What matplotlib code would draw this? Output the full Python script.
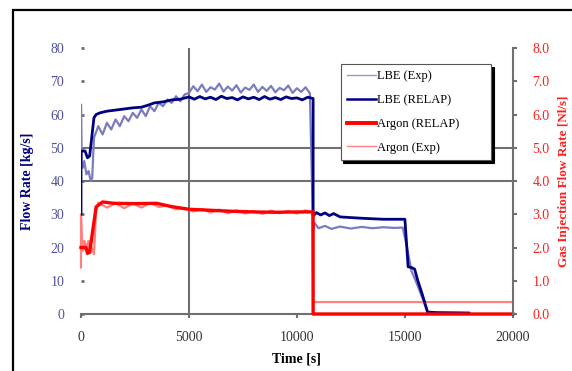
import matplotlib
matplotlib.use("Agg")
import matplotlib.pyplot as plt
from matplotlib.patches import Rectangle

plt.rcParams['font.family'] = ['Liberation Serif', 'DejaVu Serif']

# LBE flow rate, experiment (kg/s)
lbe_exp_t = [0, 0, 30, 80, 150, 250, 350, 450, 520,
             600, 800, 1000, 1200, 1400, 1600, 1800, 2000, 2200, 2400, 2600, 2800,
             3000, 3200, 3400, 3600, 3800, 4000, 4200, 4400, 4600, 4800,
             5000, 5200, 5400, 5600, 5800, 6000, 6200, 6400, 6600, 6800, 7000, 7200,
             7400, 7600, 7800, 8000, 8200, 8400, 8600, 8800, 9000, 9200, 9400, 9600,
             9800, 10000, 10200, 10400, 10600, 10750,
             10800, 11000, 11300, 11600, 12000, 12500, 13000, 13500, 14000, 14500,
             14900, 15100, 15300, 15500, 15800, 16050, 18000]
lbe_exp_v = [30, 63, 45, 44, 46, 42, 43, 40, 41,
             53, 56.5, 54, 57.5, 55.5, 58.5, 56.5, 59.5, 58, 60.5, 59, 61.5,
             59.5, 62.5, 61, 63.5, 62.5, 64.5, 63.5, 65.5, 64, 66,
             66.5, 68.5, 67, 69, 66.8, 68.2, 67.5, 69.3, 66.9, 68.4, 67.2, 68.8,
             66.6, 68.1, 67.4, 69, 66.8, 68.3, 67.1, 68.6, 66.7, 68, 67.3, 68.7,
             66.5, 67.9, 66.8, 68.2, 66.4, 25,
             27.5, 25.8, 26.5, 25.6, 26.3, 25.7, 26.2, 25.8, 26.1, 25.9,
             26, 20, 13, 10, 5, 0.5, 0.3]

# LBE flow rate, RELAP (kg/s)
lbe_relap_t = [0, 0, 190, 300, 400, 600, 700, 880, 1200, 1800, 2400, 2800, 3100,
               3400, 3800, 4200, 4600,
               5000, 5250, 5500, 5750, 6000, 6250, 6500, 6750, 7000, 7250, 7500,
               7750, 8000, 8250, 8500, 8750, 9000, 9250, 9500, 9750, 10000, 10250,
               10500, 10750, 10750,
               10900, 11100, 11300, 11500, 11700, 12000, 13000, 14000, 15000,
               15150, 15300, 15450, 15600, 15800, 16050, 16500, 17950]
lbe_relap_v = [30, 49, 49, 47, 47.5, 59, 60, 60.5, 61, 61.5, 62, 62.2, 62.8,
               63.5, 63.8, 64.4, 64.6,
               65.3, 64.6, 65.4, 64.7, 65.2, 64.5, 65.5, 64.8, 65.1, 64.4, 65.3,
               64.7, 65.2, 64.5, 65.4, 64.6, 65.1, 64.5, 65.3, 64.8, 65.0, 64.4,
               65.2, 64.8, 29.5,
               30.5, 29.8, 30.4, 29.6, 30.2, 29.2, 28.8, 28.5, 28.5,
               14.2, 14, 13.5, 10, 6, 0.6, 0.4, 0.3]

# Argon flow rate, RELAP
ar_relap_t = [0, 230, 300, 400, 700, 1000, 1500, 2500, 3500, 4200, 5000, 6000,
              7000, 8000, 9000, 10000, 10750, 10750, 20000]
ar_relap_v = [20, 20, 18.3, 18.5, 32.2, 33.7, 33.3, 33.2, 33.3, 32.3, 31.5, 31.2,
              30.9, 30.7, 30.6, 30.7, 30.7, 0, 0]

# Argon flow rate, experiment
ar_exp_t = [0, 0, 50, 100, 150, 200, 250, 300, 350, 400, 500, 600, 700,
            800, 1200, 1600, 2000, 2400, 2800, 3200, 3600, 4000, 4400, 4800, 5200,
            5600, 6000, 6400, 6800, 7200, 7600, 8000, 8400, 8800, 9200, 9600,
            10000, 10400, 10700, 10750, 20000]
ar_exp_v = [14, 30, 21, 19, 22, 20, 21, 18, 22, 19, 20, 18, 31,
            33.5, 32, 33.3, 31.8, 33.2, 32, 33.4, 32.2, 32.6, 31.5, 31.8, 30.8,
            31.6, 30.5, 31.4, 30.3, 31.2, 30.2, 31, 30.1, 31.1, 30.3, 31,
            30.2, 31.2, 30.5, 3.6, 3.6]

x_ticks = [0, 5000, 10000, 15000, 20000]
y_ticks = [0, 10, 20, 30, 40, 50, 60, 70, 80]
y2_ticks = [0, 1, 2, 3, 4, 5, 6, 7, 8]

grid_gray = '#707070'

fig = plt.figure(figsize=(5.72, 3.71), dpi=100)
ax = fig.add_axes([0.1416, 0.1536, 0.755, 0.717])

# outer frame of the picture
fig.patches.append(Rectangle((0.0227, -0.1), 1.2, 1.073, transform=fig.transFigure,
                             fill=False, edgecolor='black', lw=1.6))

ax.axhline(40, color=grid_gray, lw=1.5, zorder=1)
ax.axhline(50, color=grid_gray, lw=1.5, zorder=1)
ax.axvline(5000, color=grid_gray, lw=1.5, zorder=1)

ax.plot(lbe_exp_t, lbe_exp_v, color='#7b7bc0', lw=1.6, label='LBE (Exp)', zorder=3)
ax.plot(lbe_relap_t, lbe_relap_v, color='#000080', lw=2.0, label='LBE (RELAP)', zorder=4)
ax.plot(ar_exp_t, ar_exp_v, color='#ff8080', lw=1.6, label='Argon (Exp)', zorder=3,
        clip_on=False)
ax.plot(ar_relap_t, ar_relap_v, color='#ff0000', lw=2.4, label='Argon (RELAP)', zorder=5,
        clip_on=False)

ax.set_xlim(0, 20000)
ax.set_ylim(0, 80)
ax.set_xticks(x_ticks)
ax.set_xticklabels([str(t) for t in x_ticks])
ax.set_yticks(y_ticks)

for s in ['top', 'left', 'right']:
    ax.spines[s].set_visible(False)
ax.spines['bottom'].set_color(grid_gray)
ax.spines['bottom'].set_linewidth(1.5)

ax.tick_params(axis='y', direction='in', length=2, width=2, color=grid_gray,
               labelcolor='#5050a0', labelsize=10, pad=12)
ax.tick_params(axis='x', direction='out', length=3, width=1.5, color=grid_gray,
               labelcolor='#333333', labelsize=10, pad=9)

ax.set_xlabel('Time [s]', fontsize=10, fontweight='bold', labelpad=6)
ax.set_ylabel('Flow Rate [kg/s]', fontsize=10, fontweight='bold', color='#000080',
              labelpad=12)

ax2 = ax.twinx()
ax2.set_ylim(0, 8)
ax2.set_yticks(y2_ticks)
ax2.set_yticklabels(['%.1f' % v for v in y2_ticks])
for s in ['top', 'left', 'bottom']:
    ax2.spines[s].set_visible(False)
ax2.spines['right'].set_color(grid_gray)
ax2.spines['right'].set_linewidth(1.5)
ax2.tick_params(axis='y', direction='out', length=3, width=1.5, color=grid_gray,
                labelcolor='#ff2020', labelsize=10, pad=11)
ax2.set_ylabel('Gas Injection Flow Rate [Nl/s]', fontsize=9.5, fontweight='bold',
               color='#ff2020', labelpad=6)

h, l = ax.get_legend_handles_labels()
order = [0, 1, 3, 2]
leg = ax2.legend([h[i] for i in order], [l[i] for i in order],
                 loc='upper left', bbox_to_anchor=(0.601, 0.568, 0.348, 0.372),
                 mode='expand', fontsize=9, frameon=True, fancybox=False,
                 shadow={'color': 'black', 'alpha': 1.0}, edgecolor='#555555',
                 handlelength=2.3, handletextpad=0.1, labelspacing=0.95,
                 borderpad=0.5, borderaxespad=0)
leg.get_frame().set_linewidth(0.8)
leg.set_zorder(10)
for line, lw, c in zip(leg.get_lines(), [1.0, 1.8, 2.8, 1.0],
                       ['#9999cc', '#000080', '#ff0000', '#ff8080']):
    line.set_linewidth(lw)
    line.set_color(c)

fig.savefig('out.png', dpi=100)
